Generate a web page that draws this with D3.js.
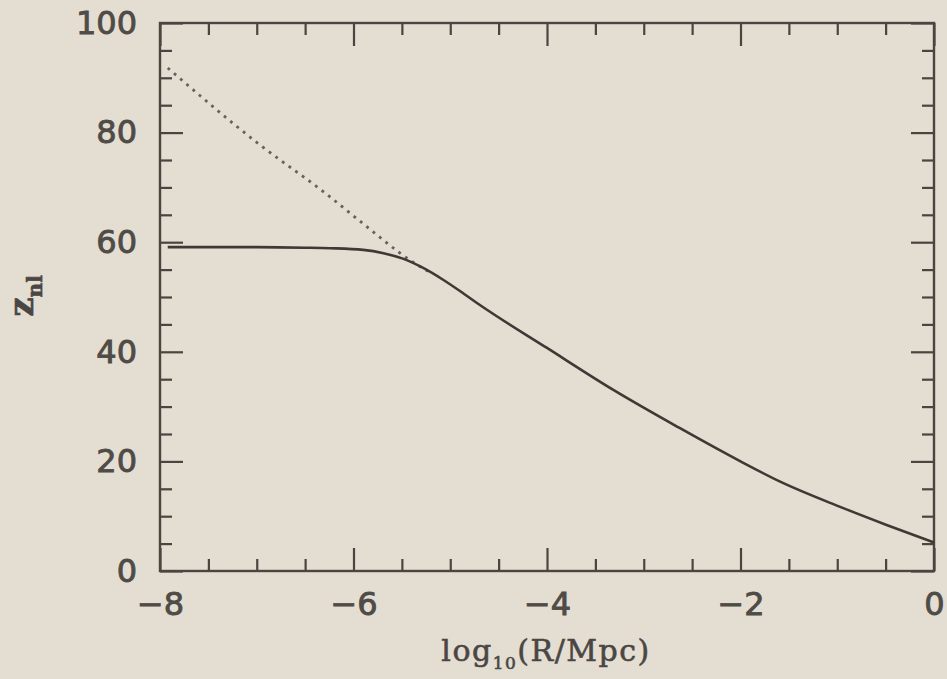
<!DOCTYPE html>
<html>
<head>
<meta charset="utf-8">
<script src="https://cdn.jsdelivr.net/npm/d3@7"></script>
<style>
  html, body { margin: 0; padding: 0; background: #e4ddd1; }
  svg { display: block; }
  .axis path { display: none; }
  .axis line { stroke: #4a4541; stroke-width: 2.2; }
  .axis text { font-family: "DejaVu Sans", sans-serif; font-size: 32px; fill: #4f4b47; stroke: #4f4b47; stroke-width: 0.9; }
  .title { font-family: "DejaVu Serif", serif; fill: #4a4643; stroke: #4a4643; stroke-width: 0.6; }
</style>
</head>
<body>
<svg id="chart" width="947" height="679"></svg>
<script>
// 讀圖得到的數據 (log10 R, z_nl)
const solidX = [-7.92, -7.0, -6.5, -6.24, -5.9, -5.69, -5.49, -5.28, -5.07, -4.86, -4.69, -4.0, -3.31, -2.63, -2.0, -1.59, -0.97, -0.49, 0.0];
const solidY = [59.1, 59.1, 59.0, 58.9, 58.6, 58.0, 57.0, 55.3, 53.1, 50.6, 48.5, 40.7, 33.0, 26.1, 20.0, 16.3, 11.7, 8.4, 5.2];
const dottedX = [-7.92, -6.97, -6.28, -5.93, -5.38, -5.22];
const dottedY = [91.8, 77.8, 68.8, 63.8, 56.3, 54.6];

const xTicks = [-8, -6, -4, -2, 0];
const xMinor = [-7.5, -7, -6.5, -5.5, -5, -4.5, -3.5, -3, -2.5, -1.5, -1, -0.5];
const yTicks = [0, 20, 40, 60, 80, 100];
const yMinor = [5, 10, 15, 25, 30, 35, 45, 50, 55, 65, 70, 75, 85, 90, 95];

const svg = d3.select('#chart');
const margin = { top: 23, right: 13, bottom: 108, left: 160 };
const width = 947 - margin.left - margin.right;
const height = 679 - margin.top - margin.bottom;

const x = d3.scaleLinear().domain([-8, 0]).range([0, width]);
const y = d3.scaleLinear().domain([0, 100]).range([height, 0]);

const g = svg.append('g').attr('transform', `translate(${margin.left},${margin.top})`);

const fmt = d3.format('d');

// 主刻度 (向內)
g.append('g').attr('class', 'axis').attr('transform', `translate(0,${height})`)
    .call(d3.axisBottom(x).tickValues(xTicks).tickFormat(fmt).tickSizeInner(-23).tickSizeOuter(0).tickPadding(21));
g.append('g').attr('class', 'axis')
    .call(d3.axisLeft(y).tickValues(yTicks).tickFormat(fmt).tickSizeInner(-23).tickSizeOuter(0).tickPadding(23));
g.append('g').attr('class', 'axis')
    .call(d3.axisTop(x).tickValues(xTicks).tickFormat('').tickSizeInner(-23).tickSizeOuter(0));
g.append('g').attr('class', 'axis').attr('transform', `translate(${width},0)`)
    .call(d3.axisRight(y).tickValues(yTicks).tickFormat('').tickSizeInner(-23).tickSizeOuter(0));

// 次刻度
g.append('g').attr('class', 'axis').attr('transform', `translate(0,${height})`)
    .call(d3.axisBottom(x).tickValues(xMinor).tickFormat('').tickSize(-12));
g.append('g').attr('class', 'axis')
    .call(d3.axisTop(x).tickValues(xMinor).tickFormat('').tickSize(-12));
g.append('g').attr('class', 'axis')
    .call(d3.axisLeft(y).tickValues(yMinor).tickFormat('').tickSize(-12));
g.append('g').attr('class', 'axis').attr('transform', `translate(${width},0)`)
    .call(d3.axisRight(y).tickValues(yMinor).tickFormat('').tickSize(-12));

// 外框
g.append('rect')
    .attr('x', x(-8)).attr('y', y(100))
    .attr('width', x(0) - x(-8)).attr('height', y(0) - y(100))
    .attr('fill', 'none').attr('stroke', '#4a4541').attr('stroke-width', 2.4);

const line = d3.line().x(d => x(d[0])).y(d => y(d[1])).curve(d3.curveMonotoneX);

g.append('path')
    .datum(dottedX.map((v, i) => [v, dottedY[i]]))
    .attr('d', line)
    .attr('fill', 'none')
    .attr('stroke', '#66615c')
    .attr('stroke-width', 2.8)
    .attr('stroke-dasharray', '2.8,5.4');

g.append('path')
    .datum(solidX.map((v, i) => [v, solidY[i]]))
    .attr('d', line)
    .attr('fill', 'none')
    .attr('stroke', '#3d3935')
    .attr('stroke-width', 2.6);

// 軸標題
const xt = svg.append('text').attr('class', 'title')
    .attr('x', 546).attr('y', 661)
    .attr('text-anchor', 'middle')
    .attr('font-size', 30)
    .attr('letter-spacing', 1.5);
xt.append('tspan').text('log');
xt.append('tspan').attr('font-size', 17).attr('dy', 8).text('10');
xt.append('tspan').attr('dy', -8).text('(R/Mpc)');

const yt = svg.append('text').attr('class', 'title')
    .attr('transform', 'translate(33,296) rotate(-90)')
    .attr('text-anchor', 'middle')
    .attr('font-size', 34)
    .attr('font-weight', 'bold');
yt.append('tspan').text('z');
yt.append('tspan').attr('font-size', 20).attr('dy', 9).text('nl');
</script>
</body>
</html>
